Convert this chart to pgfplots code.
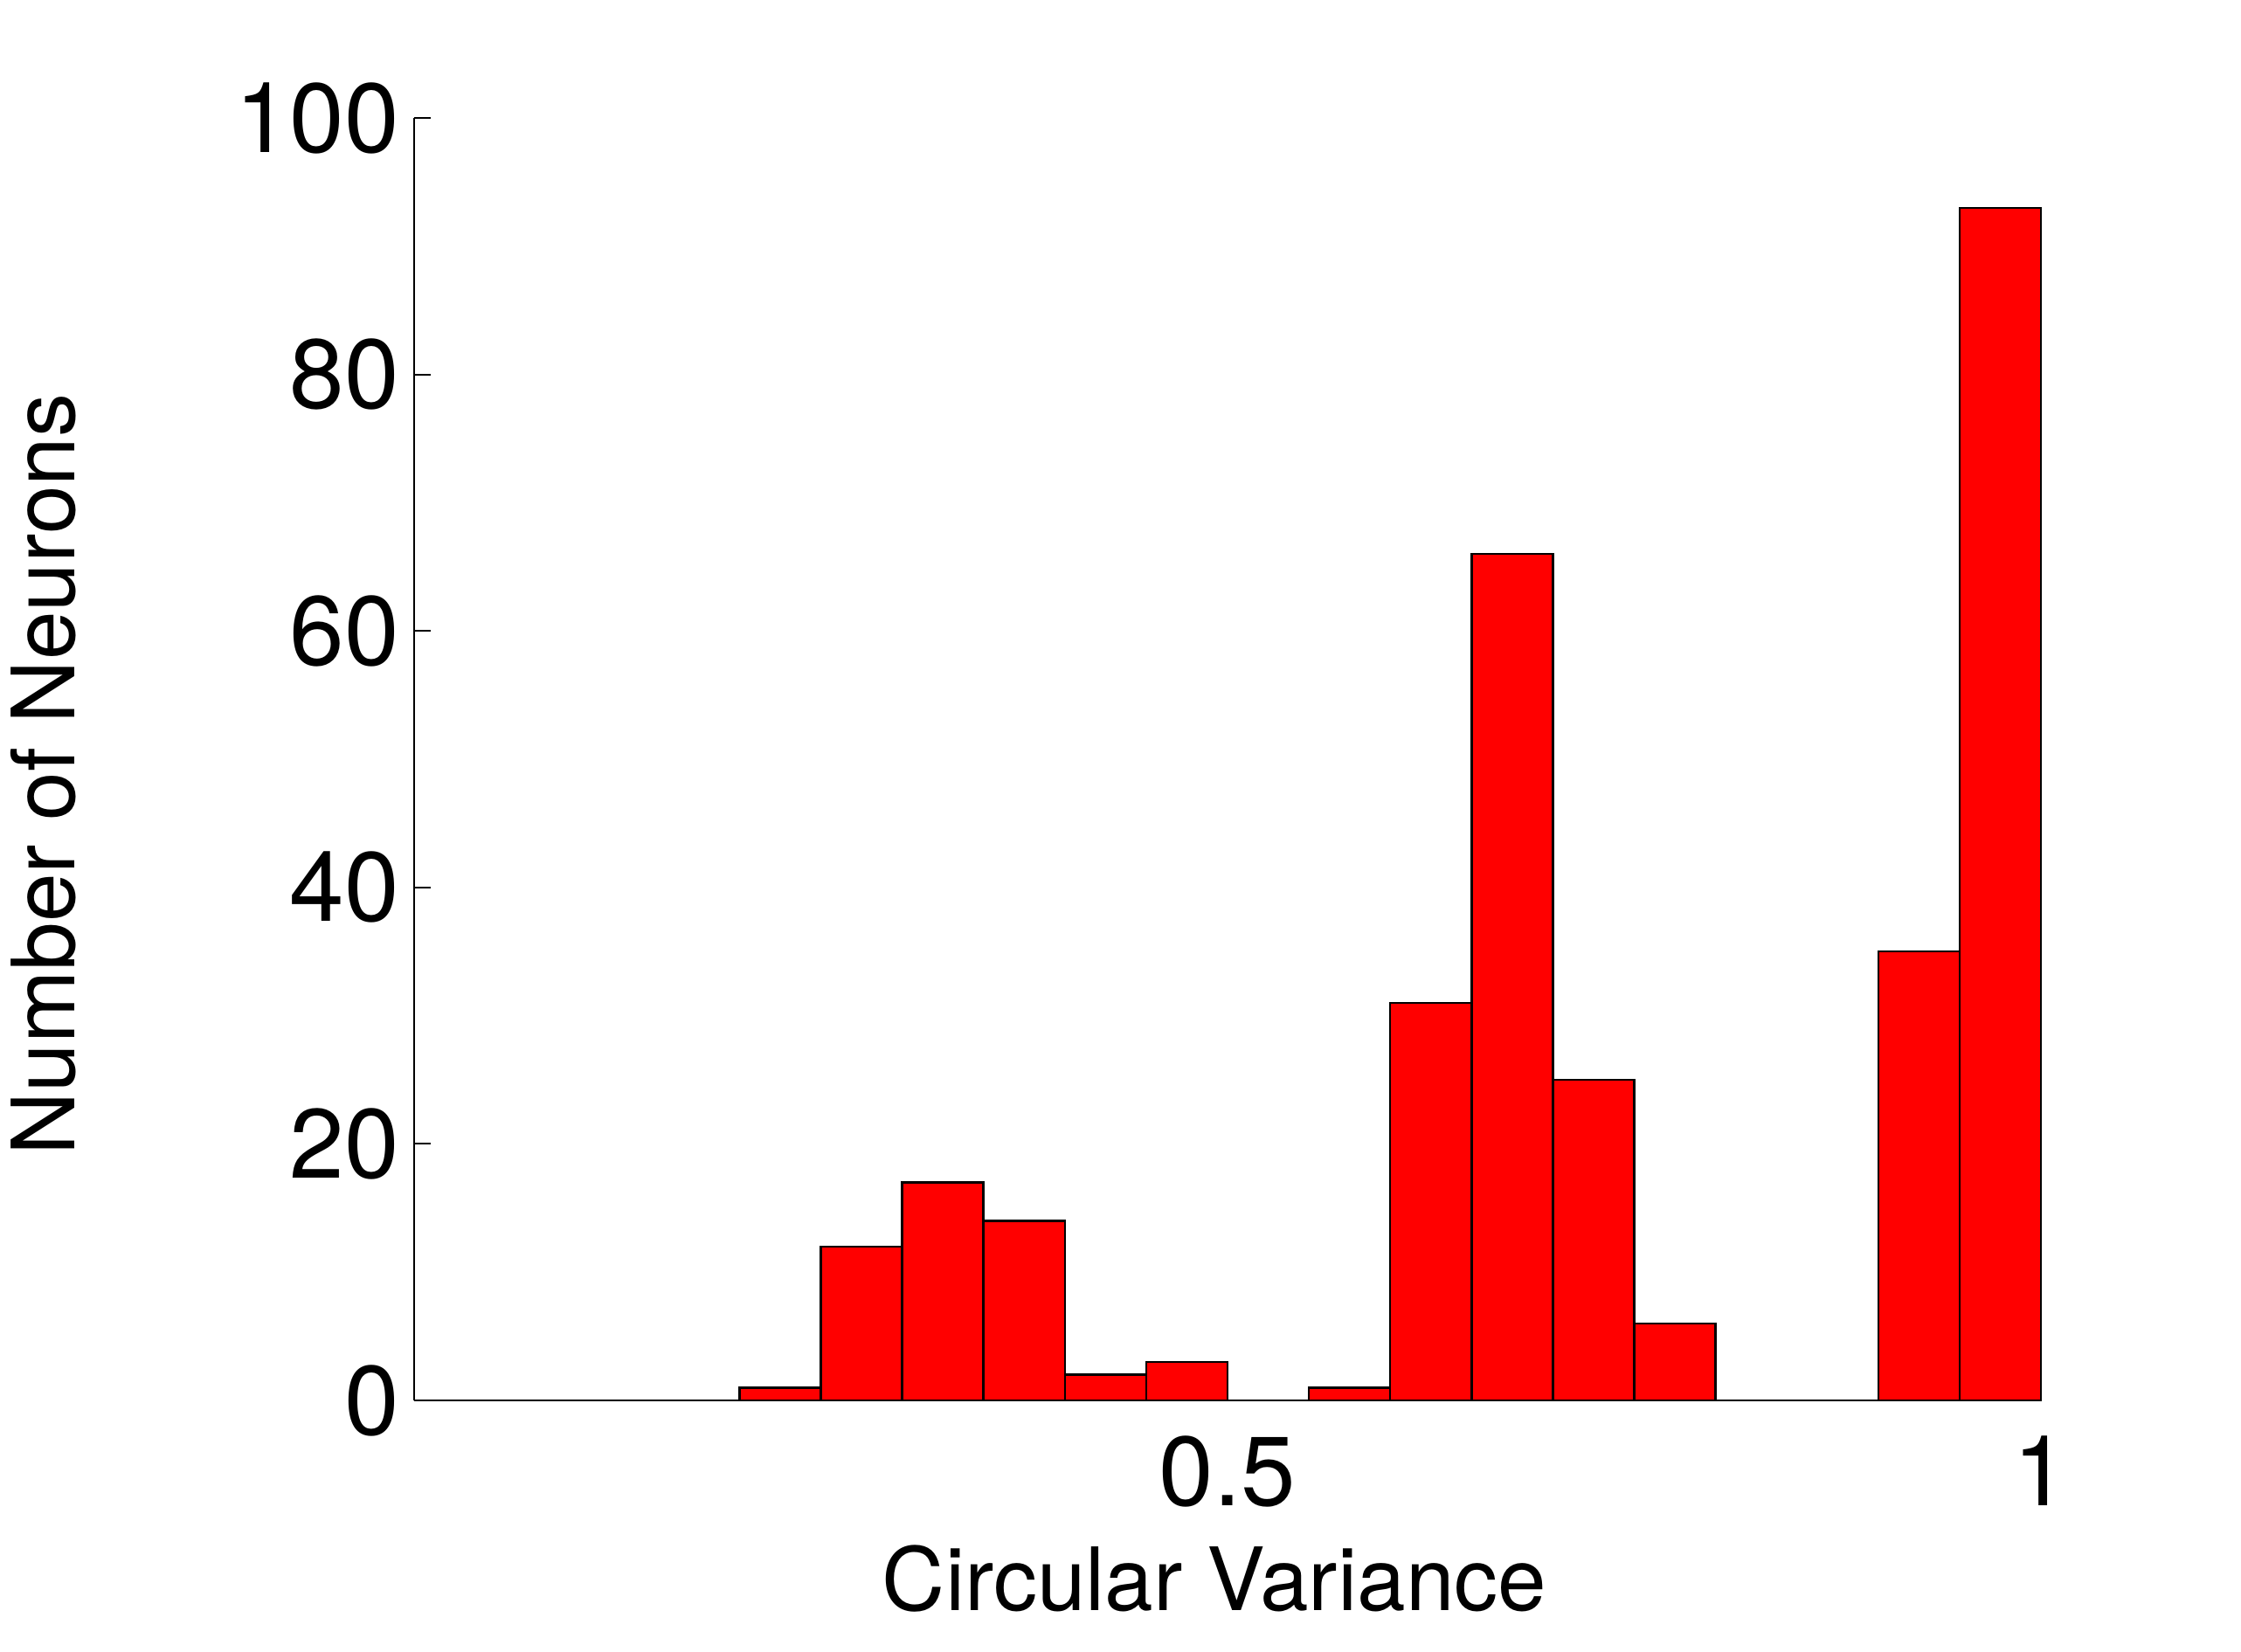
\documentclass[border=0pt]{standalone}
\usepackage{fontspec}
\setmainfont{TeX Gyre Heros}
\usepackage{pgfplots}
\pgfplotsset{compat=1.18}
\begin{document}
\begin{tikzpicture}
\begin{axis}[
  at={(0,0)}, anchor=south west,
  scale only axis,
  width=372.4pt, height=293.6pt,
  xmin=0, xmax=1, ymin=0, ymax=100,
  axis lines*=left,
  axis line style={line width=0.4pt, black},
  tick align=inside,
  major tick length=3.7pt,
  tick style={line width=0.4pt, black},
  xtick={0.5,1}, xticklabels={0.5,1},
  ytick={0,20,40,60,80,100},
  /pgf/number format/assume math mode=true,
  ticklabel style={font=\fontsize{22.5}{27}\selectfont},
  yticklabel style={anchor=east, inner sep=0pt, xshift=-3.2pt},
  xticklabel style={anchor=north, inner sep=0pt, yshift=-8pt},
  xlabel={Circular Variance},
  ylabel={Number of Neurons},
  label style={font=\fontsize{20}{24}\selectfont},
  xlabel style={at={(axis description cs:0.492,-0.1635)}, anchor=base},
  ylabel style={at={(axis description cs:-0.2084,0.488)}, anchor=base, rotate=0},
  clip=false,
]
\addplot[ybar interval, fill=red, draw=black, line width=0.5pt] coordinates {
  (0.20,1) (0.25,12) (0.30,17) (0.35,14) (0.40,2) (0.45,3)
  (0.50,0) (0.55,1) (0.60,31) (0.65,66) (0.70,25) (0.75,6)
  (0.80,0) (0.85,0) (0.90,35) (0.95,93) (1.00,93)
};
\end{axis}
\pgfresetboundingbox
\path[use as bounding box] (-94.8pt,-57.4pt) rectangle (418.2pt,320.6pt);
\end{tikzpicture}
\end{document}
